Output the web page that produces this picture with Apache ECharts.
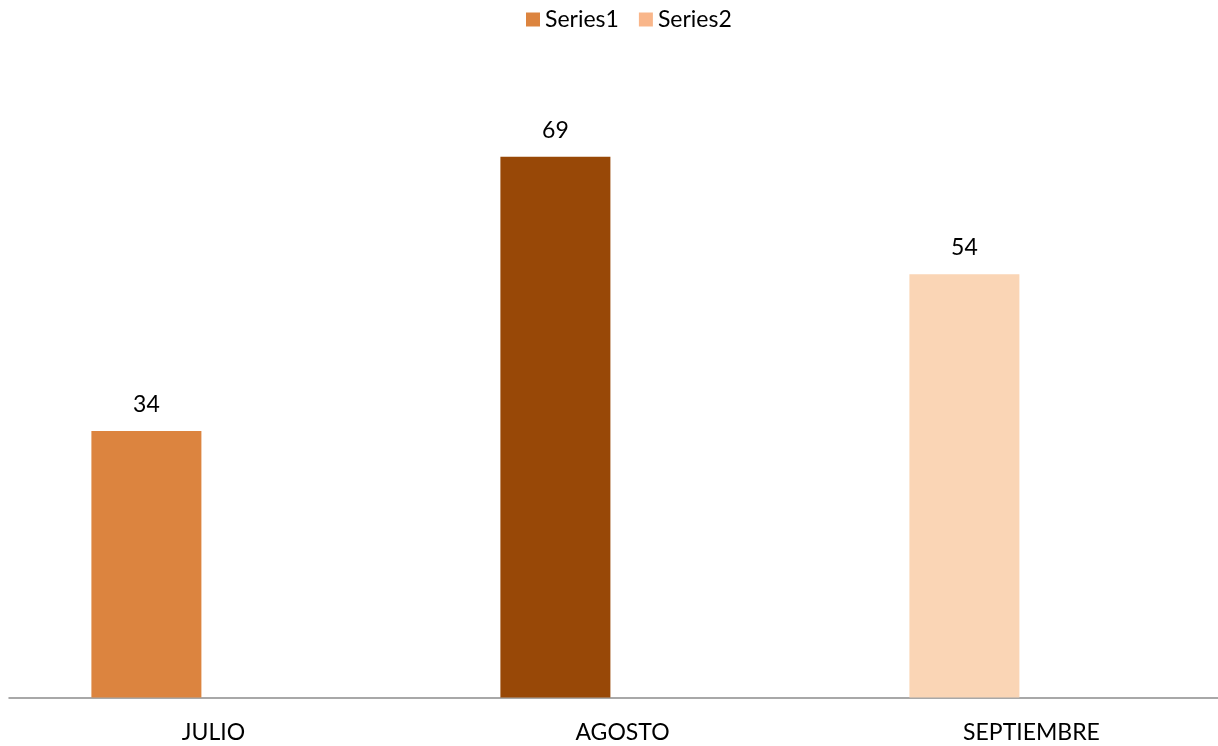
<!DOCTYPE html>
<html>
<head>
<meta charset="utf-8">
<script src="https://cdn.jsdelivr.net/npm/echarts@6/dist/echarts.min.js"></script>
<style>
html,body{margin:0;padding:0;background:#fff;overflow:hidden;}
#chart{width:1240px;height:746px;}
</style>
</head>
<body>
<div id="chart"></div>
<script>
const categories = ['JULIO', 'AGOSTO', 'SEPTIEMBRE'];
const series1Values = [34, 69, 54];
const series2Values = [null, null, null];
const barColors = ['#DC843F', '#984807', '#FAD5B5'];
const seriesNames = ['Series1', 'Series2'];

const FONT = 'Lato, "Noto Sans", sans-serif';
const chart = echarts.init(document.getElementById('chart'), null, {renderer: 'canvas'});
chart.setOption({
  animation: false,
  color: ['#DC843F', '#F9B68A'],
  legend: {
    top: 3,
    left: 521,
    itemWidth: 14,
    itemHeight: 14,
    itemGap: 20,
    icon: 'rect',
    textStyle: {fontFamily: FONT, fontSize: 23, color: '#000'},
    data: seriesNames
  },
  grid: {left: 9, right: 4, top: 70.5, bottom: 48.5, containLabel: false},
  xAxis: {
    type: 'category',
    data: categories,
    axisLine: {show: true, lineStyle: {color: '#8c8c8c', width: 1.5}},
    axisTick: {show: false},
    axisLabel: {fontFamily: FONT, fontSize: 23, color: '#000', margin: 24}
  },
  yAxis: {
    type: 'value',
    min: 0,
    max: 80,
    show: false,
    splitLine: {show: false}
  },
  series: [
    {
      name: seriesNames[0],
      type: 'bar',
      barWidth: 110,
      barGap: '22%',
      data: series1Values.map((v, i) => ({value: v, itemStyle: {color: barColors[i]}})),
      label: {show: true, position: 'top', distance: 15, fontFamily: FONT, fontSize: 23, color: '#000'}
    },
    {
      name: seriesNames[1],
      type: 'bar',
      barWidth: 110,
      data: series2Values
    }
  ]
});
</script>
</body>
</html>
